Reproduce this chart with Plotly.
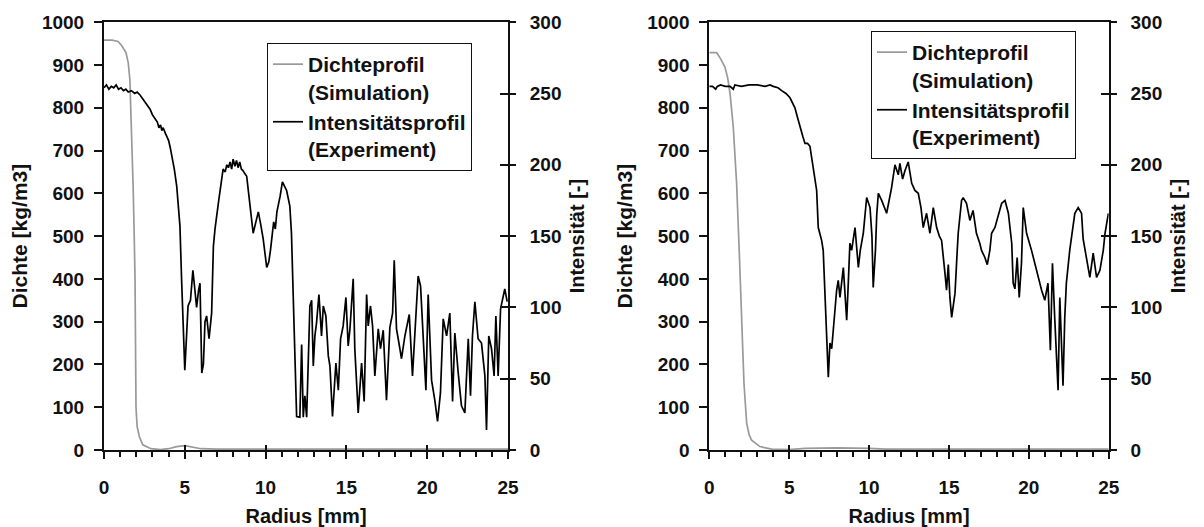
import plotly.graph_objects as go

# --- Radialprofile, Probe A (links) ---
radius_sim_a = [0, 0.5, 0.87, 1.1, 1.36, 1.5, 1.6, 1.71, 1.8, 1.87, 1.92, 1.98, 2.05, 2.19,
                2.4, 2.9, 3.5, 4.0, 4.5, 5.0, 5.5, 6.0, 7.0, 25.0]
dichte_sim_a = [958, 958, 955, 945, 929, 905, 866, 742, 620, 500, 400, 100, 55, 31,
                12, 3, 1, 3, 8, 10, 7, 3, 2, 2]

radius_exp_a = [0, 0.15, 0.3, 0.45, 0.6, 0.75, 0.9, 1.05, 1.2, 1.35, 1.5, 1.7, 1.9, 2.05,
                2.23, 2.4, 2.5, 2.65, 2.85, 3.0, 3.1, 3.2, 3.3, 3.4, 3.5, 3.58, 3.66, 3.8,
                3.9, 4.0, 4.1, 4.19, 4.35, 4.5, 4.6, 4.7, 4.8, 4.9, 5.0, 5.1, 5.2, 5.35,
                5.5, 5.6, 5.73, 5.85, 5.94, 6.05, 6.15, 6.25, 6.35, 6.5, 6.66, 6.77, 6.87,
                7.1, 7.37, 7.5, 7.6, 7.7, 7.8, 7.9, 7.99, 8.1, 8.2, 8.3, 8.4, 8.5, 8.6,
                8.7, 8.83, 9.0, 9.1, 9.23, 9.4, 9.5, 9.55, 9.7, 9.85, 10.07, 10.2, 10.3,
                10.4, 10.5, 10.6, 10.7, 10.9, 11.04, 11.3, 11.5, 11.6, 11.7, 11.8, 11.92,
                12.12, 12.23, 12.33, 12.43, 12.54, 12.64, 12.74, 12.85, 12.95, 13.05,
                13.15, 13.3, 13.46, 13.57, 13.73, 13.88, 13.98, 14.14, 14.29, 14.35,
                14.5, 14.64, 14.8, 14.97, 15.11, 15.22, 15.42, 15.52, 15.73, 15.94,
                16.1, 16.25, 16.35, 16.49, 16.62, 16.76, 16.97, 17.11, 17.28, 17.48,
                17.69, 17.86, 17.96, 18.1, 18.31, 18.41, 18.62, 18.89, 19.09, 19.24,
                19.44, 19.59, 19.75, 19.92, 20.06, 20.27, 20.47, 20.64, 20.82, 20.99,
                21.2, 21.4, 21.57, 21.71, 21.92, 22.12, 22.33, 22.54, 22.68, 22.8,
                22.95, 23.15, 23.36, 23.57, 23.67, 23.81, 23.98, 24.14, 24.25, 24.39,
                24.54, 24.66, 24.8, 24.95]
intens_exp_a = [254, 256, 253, 255, 254, 256, 253, 254, 252, 253, 251, 252, 250, 251,
                249, 246, 245, 242, 239, 235, 233, 231, 230, 226, 228, 224, 226, 222,
                220, 217, 212, 207, 197, 185, 172, 157, 120, 80, 56, 78, 101, 105,
                126, 115, 100, 112, 117, 54, 60, 90, 94, 78, 96, 143, 155,
                175, 197, 195, 200, 198, 202, 197, 204, 199, 203, 198, 202, 197, 196,
                194, 192, 175, 165, 152, 160, 164, 167, 158, 148, 128, 132, 140,
                150, 160, 155, 167, 178, 188, 182, 171, 152, 110, 60, 23.5,
                23, 74, 23, 38, 23, 71, 101, 105, 59, 80,
                89, 109, 80, 101, 94, 66, 59, 23.5, 47, 61,
                42, 78, 87, 107, 73, 85, 120, 71, 26, 61,
                34, 109, 87, 101, 87, 52, 85, 71, 84, 35,
                86, 96, 133, 85, 71, 64, 80, 95, 52, 82,
                122, 115, 82, 42, 109, 49, 35, 20, 40, 92,
                80, 96, 34, 82, 54, 31, 26, 78, 38, 80,
                104, 78, 75, 52, 14, 80, 71, 52, 94, 52,
                99, 106, 113, 104]

# --- Radialprofile, Probe B (rechts) ---
radius_sim_b = [0, 0.46, 0.7, 0.98, 1.15, 1.3, 1.5, 1.71, 1.88, 2.03, 2.17, 2.34, 2.5,
                2.65, 3.17, 3.9, 5, 6, 8, 10, 11, 25]
dichte_sim_b = [929, 929, 915, 895, 870, 833, 755, 623, 459, 311, 156, 62, 35,
                23, 8, 2, 1, 4, 5, 4, 2, 2]

radius_exp_b = [0, 0.2, 0.4, 0.5, 0.7, 1.0, 1.3, 1.5, 1.6, 2.0, 2.5, 3.0, 3.5, 3.8, 4.0,
                4.3, 4.53, 4.8, 5.05, 5.2, 5.36, 5.5, 5.68, 5.85, 5.99, 6.15, 6.3, 6.51,
                6.72, 6.82, 7.03, 7.13, 7.25, 7.35, 7.45, 7.55, 7.66, 7.76, 7.97, 8.07,
                8.18, 8.39, 8.6, 8.7, 8.8, 8.91, 9.12, 9.33, 9.45, 9.64, 9.85, 10.06,
                10.18, 10.26, 10.4, 10.48, 10.58, 10.79, 11.1, 11.41, 11.62, 11.83,
                11.93, 12.1, 12.25, 12.45, 12.67, 12.87, 13.08, 13.25, 13.39, 13.6,
                13.81, 14.02, 14.23, 14.4, 14.54, 14.75, 14.85, 14.96, 15.06, 15.17,
                15.38, 15.52, 15.58, 15.79, 15.89, 16.1, 16.31, 16.51, 16.72, 16.93,
                17.04, 17.25, 17.4, 17.56, 17.67, 17.88, 18.09, 18.3, 18.51, 18.72,
                18.93, 19.02, 19.13, 19.27, 19.4, 19.54, 19.65, 19.86, 20.17, 20.28,
                20.48, 20.8, 21.0, 21.2, 21.35, 21.48, 21.62, 21.73, 21.83, 21.94,
                22.04, 22.14, 22.25, 22.35, 22.56, 22.67, 22.88, 23.09, 23.3, 23.4,
                23.61, 23.82, 24.03, 24.24, 24.45, 24.66, 24.77, 24.98]
intens_exp_b = [255, 255, 253, 255, 256, 255, 255, 253, 256, 255, 256, 256, 255, 256, 255,
                254, 252, 250, 247, 244, 240, 234, 226, 220, 215, 215, 213, 196,
                182, 156, 147, 140, 110, 86, 51, 75, 71, 84, 112, 119,
                107, 128, 91, 117, 145, 140, 156, 128, 140, 152, 177, 170,
                150, 114, 140, 165, 180, 175, 166, 184, 200, 193,
                201, 190, 196, 202, 187, 182, 180, 170, 156, 166,
                152, 170, 156, 150, 147, 124, 112, 130, 107, 93,
                110, 140, 152, 175, 177, 173, 161, 168, 152, 145,
                140, 135, 130, 140, 152, 156, 164, 173, 175, 166,
                145, 117, 113, 135, 107, 131, 170, 152, 140, 135,
                126, 112, 105, 117, 70, 131, 93, 70, 42, 107,
                70, 45, 93, 117, 140, 150, 166, 170, 166, 148,
                135, 121, 138, 121, 126, 140, 152, 166]

x_ticks = [0, 5, 10, 15, 20, 25]
dichte_ticks = [0, 100, 200, 300, 400, 500, 600, 700, 800, 900, 1000]
intens_ticks = [0, 50, 100, 150, 200, 250, 300]

FONT = "Liberation Sans, Arial, sans-serif"
INK = "#111111"
AXW = 2

fig = go.Figure()

panels = [
    # (x axis, y left, y right, sim x, sim y, exp x, exp y, legend)
    ("x", "y", "y2", radius_sim_a, dichte_sim_a, radius_exp_a, intens_exp_a, "legend"),
    ("x2", "y3", "y4", radius_sim_b, dichte_sim_b, radius_exp_b, intens_exp_b, "legend2"),
]
for xa, yl, yr, xs, ys, xe, ye, lg in panels:
    fig.add_trace(go.Scatter(x=xs, y=ys, xaxis=xa, yaxis=yl, mode="lines",
                             name="Dichteprofil<br>(Simulation)", legend=lg,
                             line=dict(color="#999999", width=1.7)))
    fig.add_trace(go.Scatter(x=xe, y=ye, xaxis=xa, yaxis=yr, mode="lines",
                             name="Intensitätsprofil<br>(Experiment)", legend=lg,
                             line=dict(color="#000000", width=1.7)))

# empty traces that activate the overlay axes used for crossing tick marks
for xa, ya in [("x3", "y"), ("x", "y5"), ("x4", "y3"), ("x2", "y6")]:
    fig.add_trace(go.Scatter(x=[], y=[], xaxis=xa, yaxis=ya, showlegend=False,
                             hoverinfo="skip"))

tickfont = dict(family=FONT, size=19, color=INK, weight="bold")


def titlefont(size):
    return dict(family=FONT, size=size, color=INK, weight="bold")


dom_a = [104 / 1204, 508 / 1204]
dom_b = [709.3 / 1204, 1108.7 / 1204]
dom_y = [(527 - 450) / 527, (527 - 22.2) / 527]


def x_axis(domain, anchor):
    return dict(domain=domain, anchor=anchor, range=[0, 25], tickvals=x_ticks,
                ticks="outside", ticklen=7, tickwidth=1.5, tickcolor=INK,
                showline=True, linewidth=AXW, linecolor=INK, mirror=True,
                showgrid=False, zeroline=False, tickfont=tickfont,
                ticklabelstandoff=12, automargin=False,
                minor=dict(dtick=1, ticks="outside", ticklen=5, tickwidth=1.5,
                           tickcolor=INK, showgrid=False),
                title=dict(text="Radius [mm]", font=titlefont(20), standoff=15))


def x_cross(overlay):
    return dict(overlaying=overlay, range=[0, 25], tickvals=x_ticks, ticks="inside",
                ticklen=5, tickwidth=1.5, tickcolor=INK, showticklabels=False,
                showline=False, showgrid=False, zeroline=False, automargin=False)


def y_left(anchor):
    return dict(domain=dom_y, anchor=anchor, range=[0, 1000], tickvals=dichte_ticks,
                ticks="outside", ticklen=8, tickwidth=1.5, tickcolor=INK,
                showline=True, linewidth=AXW, linecolor=INK, showgrid=False,
                zeroline=False, tickfont=tickfont, ticklabelstandoff=6,
                automargin=False,
                title=dict(text="Dichte [kg/m3]", font=titlefont(21), standoff=9))


def y_right(anchor, overlay):
    return dict(overlaying=overlay, side="right", anchor=anchor, range=[0, 300],
                tickvals=intens_ticks, ticks="outside", ticklen=6, tickwidth=1.5,
                tickcolor=INK, showline=True, linewidth=AXW, linecolor=INK,
                showgrid=False, zeroline=False, tickfont=tickfont,
                ticklabelstandoff=10, automargin=False,
                title=dict(text="Intensität [-]", font=titlefont(20), standoff=10))


def y_cross(anchor, overlay):
    return dict(overlaying=overlay, side="right", anchor=anchor, range=[0, 300],
                tickvals=intens_ticks, ticks="inside", ticklen=8, tickwidth=1.5,
                tickcolor=INK, showticklabels=False, showline=False,
                showgrid=False, zeroline=False, automargin=False)


legend_style = dict(xanchor="left", yanchor="top", bgcolor="white",
                    bordercolor=INK, borderwidth=1, valign="top",
                    font=dict(family=FONT, size=21, color=INK, weight="bold"),
                    itemwidth=30, tracegroupgap=0)

fig.update_layout(
    width=1204, height=527,
    margin=dict(l=0, r=0, t=0, b=0, autoexpand=False),
    paper_bgcolor="white", plot_bgcolor="white",
    showlegend=True,
    xaxis=x_axis(dom_a, "y"),
    xaxis2=x_axis(dom_b, "y3"),
    xaxis3=x_cross("x"),
    xaxis4=x_cross("x2"),
    yaxis=y_left("x"),
    yaxis2=y_right("x", "y"),
    yaxis3=y_left("x2"),
    yaxis4=y_right("x2", "y3"),
    yaxis5=y_cross("x", "y"),
    yaxis6=y_cross("x2", "y3"),
    legend=dict(x=267 / 1204, y=(527 - 43) / 527, **legend_style),
    legend2=dict(x=871 / 1204, y=(527 - 31) / 527, **legend_style),
)

fig.write_html("out.html")
